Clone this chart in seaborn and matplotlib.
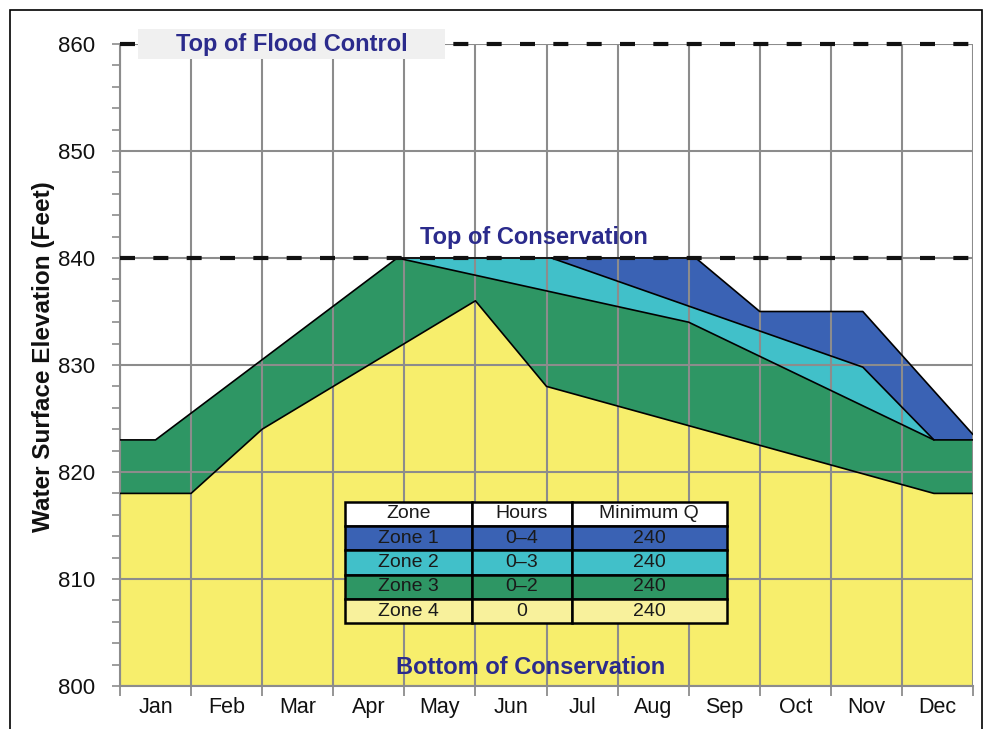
#!/usr/bin/env python3

import matplotlib
matplotlib.use('Agg')
import matplotlib.pyplot as plt
from matplotlib.patches import Rectangle
import seaborn as sns
import numpy as np
import pandas as pd

#-----------
# DATA
#-----------
MONTHS = ['Jan', 'Feb', 'Mar', 'Apr', 'May', 'Jun', 'Jul', 'Aug', 'Sep', 'Oct', 'Nov', 'Dec']
ELEV_TICKS = [800, 810, 820, 830, 840, 850, 860]

# top of each zone (month index from 0 = start of Jan to 12 = end of Dec)
zone4_x = [0, 1, 2, 5, 6, 11.45, 12]
zone4_top = [818, 818, 824, 836, 828, 818, 818]
zone3_x = [0, 0.5, 3.9, 8, 11.45, 12]
zone3_top = [823, 823, 840, 834, 823, 823]
zone2_x = [3.9, 6.07, 10.45, 11.45]
zone2_top = [840, 840, 829.8, 823]
zone1_x = [6.07, 8.1, 9, 10.45, 12]
zone1_top = [840, 840, 835, 835, 823.5]

TOP_FLOOD = 860
TOP_CONS = 840
BOTTOM_CONS = 800

table_cols = ['Zone', 'Hours', 'Minimum Q']
table_zones = ['Zone 1', 'Zone 2', 'Zone 3', 'Zone 4']
table_hours = ['0\u20134', '0\u20133', '0\u20132', '0']
table_minq = ['240', '240', '240', '240']

#-----------
# STYLE
#-----------
C_BLUE = '#3a62b4'
C_CYAN = '#41c0c9'
C_GREEN = '#2e9664'
C_YELLOW = '#f7ee6c'
C_YELLOW_LIGHT = '#f8f19c'
C_NAVY = '#2b2b8c'
C_GRID = '#8c8c8c'

sns.set_theme(style='white')
plt.rcParams['font.family'] = ['Liberation Sans', 'DejaVu Sans']


def _poly(top_x, top_y, bot_x, bot_y):
  xs = list(top_x) + list(bot_x)[::-1]
  ys = list(top_y) + list(bot_y)[::-1]
  return xs, ys


fig = plt.figure(figsize=(9.84, 7.29), dpi=100)
ax = fig.add_axes([120/984, 1 - 686/729, (973-120)/984, (686-44)/729])

# zone fills
xs, ys = _poly(zone4_x, zone4_top, [zone4_x[0], zone4_x[-1]], [BOTTOM_CONS, BOTTOM_CONS])
ax.fill(xs, ys, color=C_YELLOW, zorder=1, lw=0)
xs, ys = _poly(zone3_x, zone3_top, zone4_x, zone4_top)
ax.fill(xs, ys, color=C_GREEN, zorder=1, lw=0)
g_sel = [i for i, x in enumerate(zone3_x) if zone2_x[0] <= x <= zone2_x[-1]]
xs, ys = _poly(zone2_x, zone2_top, [zone3_x[i] for i in g_sel], [zone3_top[i] for i in g_sel])
ax.fill(xs, ys, color=C_CYAN, zorder=1, lw=0)
blue_bot_x = zone2_x[1:] + zone3_x[-1:]
blue_bot_y = zone2_top[1:] + zone3_top[-1:]
xs, ys = _poly(zone1_x, zone1_top, blue_bot_x, blue_bot_y)
ax.fill(xs, ys, color=C_BLUE, zorder=1, lw=0)

# zone outlines
for bx, by in [(zone4_x, zone4_top), (zone3_x, zone3_top), (zone2_x, zone2_top), (zone1_x, zone1_top)]:
  sns.lineplot(x=bx, y=by, ax=ax, color='black', lw=1.2, sort=False, estimator=None, zorder=3)

# top of conservation / flood control
for lvl in [TOP_CONS, TOP_FLOOD]:
  ax.plot([0, 12], [lvl, lvl], color='#111111', lw=3, linestyle=(0, (3.6, 4.4)),
          zorder=4, clip_on=False)

ax.set_xlim(0, 12)
ax.set_ylim(BOTTOM_CONS, TOP_FLOOD)

# grid
ax.set_axisbelow(False)
ax.set_xticks(np.arange(0, 13))
ax.set_xticklabels([])
ax.set_xticks(np.arange(0.5, 12, 1), minor=True)
ax.set_xticklabels(MONTHS, minor=True, fontsize=15.5)
ax.set_yticks(ELEV_TICKS)
ax.set_yticklabels([str(v) for v in ELEV_TICKS], fontsize=16)
ax.set_yticks(np.arange(800, 861, 2), minor=True)
ax.grid(True, which='major', color=C_GRID, lw=1.5)
ax.tick_params(axis='x', which='major', bottom=True, length=7, width=1.3, color=C_GRID)
ax.tick_params(axis='x', which='minor', bottom=True, length=0, pad=8, labelcolor='#111111')
ax.tick_params(axis='y', which='both', left=True, length=6, width=1.2, color=C_GRID, pad=12,
               labelcolor='#111111')
for s in ['top', 'right']:
  ax.spines[s].set_visible(False)
for s in ['left', 'bottom']:
  ax.spines[s].set_color(C_GRID)
  ax.spines[s].set_linewidth(1.5)

ax.set_ylabel('Water Surface Elevation (Feet)', fontsize=17.5, fontweight='bold', color='#111111')
ax.yaxis.set_label_coords(-0.0762, 0.5125)

# labels
ax.add_patch(Rectangle((0.25, 858.6), 4.32, 2.8, facecolor='#f0f0f0', edgecolor='none',
                       zorder=5, clip_on=False))
ax.text(2.42, TOP_FLOOD, 'Top of Flood Control', ha='center', va='center', fontsize=17, fontweight='bold',
        color=C_NAVY, zorder=7, clip_on=False)
ax.text(5.82, 841.9, 'Top of Conservation', ha='center', va='center', fontsize=17, fontweight='bold',
        color=C_NAVY, zorder=7)
ax.text(5.78, 801.7, 'Bottom of Conservation', ha='center', va='center', fontsize=17, fontweight='bold',
        color=C_NAVY, zorder=7)

# zone table
cell_text = [table_cols] + [list(r) for r in zip(table_zones, table_hours, table_minq)]
row_colors = ['white', C_BLUE, C_CYAN, C_GREEN, C_YELLOW_LIGHT]
cell_colors = [[c] * 3 for c in row_colors]
tab = ax.table(cellText=cell_text, cellColours=cell_colors, cellLoc='center',
               colWidths=[0.332, 0.262, 0.406],
               bbox=[(345-120)/853, (686-623.3)/642, (726.7-345)/853, (623.3-501.7)/642])
tab.auto_set_font_size(False)
tab.set_fontsize(14)
tab.set_zorder(8)
for (r, c), cell in tab.get_celld().items():
  cell.set_edgecolor('black')
  cell.set_linewidth(1.8)
  cell.get_text().set_color('#1a1a1a')

# figure frame
fig.add_artist(Rectangle((10/984, -0.05), (982-10)/984, 1 - 10/729 + 0.05, transform=fig.transFigure,
                         fill=False, edgecolor='black', lw=1.2))

fig.savefig('out.png', dpi=100)
